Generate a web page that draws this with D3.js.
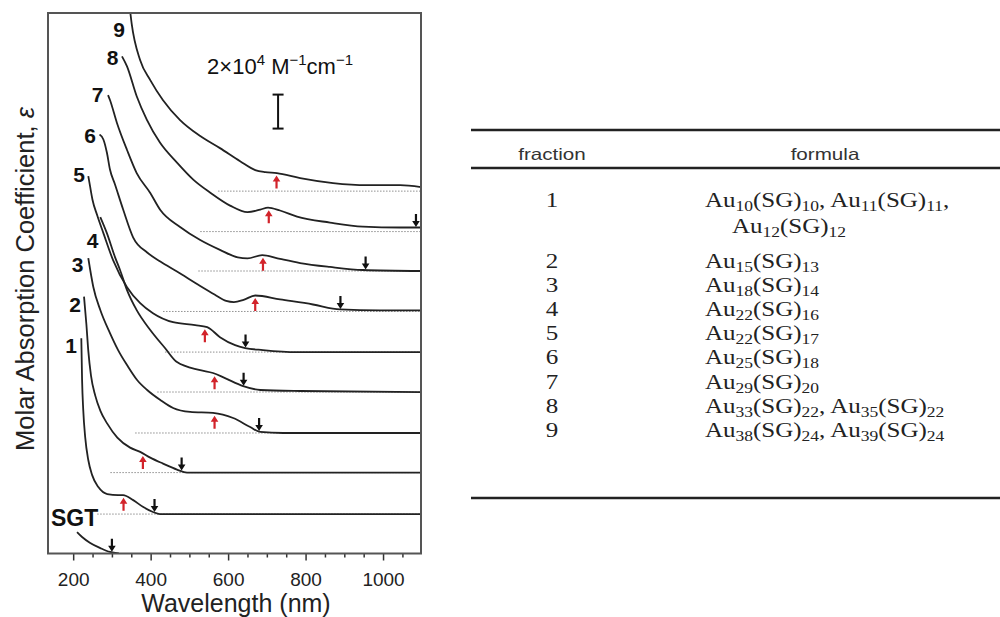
<!DOCTYPE html>
<html><head><meta charset="utf-8">
<script src="https://cdn.jsdelivr.net/npm/d3@7"></script>
<style>body{margin:0;background:#fff}svg{display:block}</style>
</head><body>
<svg id="c" width="1000" height="617"></svg>
<script>
// ---------- DATA ----------
const fractions = ["SGT","1","2","3","4","5","6","7","8","9"];
const offsets   = [0, 2.32, 4.76, 7.09, 9.5, 11.85, 14.24, 16.62, 18.94, 21.32];

const curveSGT = [[210,1.26],[223,0.97],[244,0.62],[270,0.32],[295,0.09],[318,0]];
const curve1 = [[221,10.35],[223,7.88],[226,6.12],[231,4.53],[239,3.18],[249,2.29],[265,1.59],[288,1.18],[316,1.12],[329,1.12],[355,0.82],[381,0.41],[406,0.12],[424,0],[1098,0]];
const curve2 = [[228,10.35],[234,8.76],[239,7.18],[246,5.71],[257,4.53],[270,3.65],[288,2.88],[314,2.06],[347,1.47],[373,1.22],[399,0.88],[432,0.53],[468,0.18],[494,0],[1098,0]];
const curve3 = [[239,10.29],[244,9.59],[252,8.59],[270,7.24],[295,5.88],[316,4.88],[339,4.0],[365,3.12],[391,2.53],[425,1.94],[458,1.47],[502,1.24],[561,1.18],[613,0.88],[657,0.35],[683,0.06],[742,0],[1098,0]];
const curve4 = [[270,10.29],[287,9.35],[308,7.94],[321,7.18],[339,6.0],[364,4.82],[399,3.65],[437,2.59],[468,1.76],[528,1.29],[561,1.12],[592,0.82],[639,0.35],[683,0.12],[786,0.06],[1098,0]];
const curve5 = [[239,10.35],[244,9.7],[250,8.95],[262,8.05],[278,7.0],[303,5.41],[339,3.82],[373,2.88],[406,2.29],[458,1.76],[515,1.59],[546,1.47],[579,0.88],[618,0.41],[644,0.24],[690,0.12],[778,0],[1098,0]];
const curve6 = [[268,10.41],[278,10.12],[287,9.35],[295,8.35],[308,7.47],[329,6.0],[355,4.35],[391,3.47],[425,2.94],[468,2.35],[528,1.5],[565,1.0],[595,0.62],[615,0.55],[640,0.68],[670,0.94],[734,0.71],[819,0.41],[889,0.12],[992,0.06],[1098,0.06]];
const curve7 = [[290,10.35],[295,10.06],[313,8.71],[339,7.12],[364,5.76],[399,4.59],[425,3.59],[476,2.59],[528,1.82],[579,1.24],[625,0.8],[650,0.74],[688,0.94],[734,0.71],[786,0.47],[863,0.24],[948,0.06],[1098,0]];
const curve8 = [[326,10.31],[339,9.72],[364,7.96],[390,6.59],[424,5.24],[468,4.06],[510,3.06],[554,2.29],[605,1.53],[650,1.14],[683,1.29],[703,1.41],[734,1.24],[778,0.88],[863,0.53],[948,0.29],[1044,0.24],[1098,0.24]];
const curve9 = [[345,11.0],[351,9.86],[373,7.7],[399,6.53],[432,5.35],[476,4.18],[528,3.24],[579,2.53],[631,1.76],[670,1.24],[696,1.12],[726,1.06],[786,0.76],[871,0.47],[959,0.35],[1044,0.35],[1098,0.24]];
const curves = [curveSGT, curve1, curve2, curve3, curve4, curve5, curve6, curve7, curve8, curve9];

const redArrowNm   = [null, 330, 380, 565, 565, 540, 670, 690, 705, 725];
const blackArrowNm = [300, 410, 480, 680, 640, 645, 890, 955, 1085, null];
const dottedStartNm = [null, 262, 296, 360, 417, 437, 432, 523, 528, 574];

const labelNm  = [203.9, 194.8, 205.2, 211.6, 250.3, 215.5, 243.9, 263.2, 301.9, 318.7];
const labelVal = [2.06, 12.26, 14.65, 17.0, 18.41, 22.29, 24.59, 27.0, 29.21, 30.82];

const majorTicks = [200, 400, 600, 800, 1000];
const minorTicks = [250, 300, 350, 450, 500, 550, 650, 700, 750, 850, 900, 950, 1050];
const scaleBarNm = 729, scaleBarFrom = 25.0, scaleBarSize = 2;

const tableHeader = ["fraction", "formula"];
const tableFraction = ["1","2","3","4","5","6","7","8","9"];
const tableFormula = [
  ["Au_{10}(SG)_{10}, Au_{11}(SG)_{11},", "Au_{12}(SG)_{12}"],
  ["Au_{15}(SG)_{13}"],
  ["Au_{18}(SG)_{14}"],
  ["Au_{22}(SG)_{16}"],
  ["Au_{22}(SG)_{17}"],
  ["Au_{25}(SG)_{18}"],
  ["Au_{29}(SG)_{20}"],
  ["Au_{33}(SG)_{22}, Au_{35}(SG)_{22}"],
  ["Au_{38}(SG)_{24}, Au_{39}(SG)_{24}"]
];

// ---------- CHART ----------
const svg = d3.select("#c");
const L = 48, R = 421, T = 13, B = 553.5;
const x = d3.scaleLinear().domain([135, 1098]).range([L, R]);
const y = d3.scaleLinear().domain([0, 31.8]).range([B, T]);
const SANS = "'Liberation Sans', Arial, Helvetica, sans-serif";
const SERIF = "'Liberation Serif', 'Times New Roman', serif";

svg.append("defs").append("clipPath").attr("id","pc")
  .append("rect").attr("x",L).attr("y",T).attr("width",R-L).attr("height",B-T);

const plot = svg.append("g").attr("clip-path","url(#pc)");

function valueAt(c, nm){
  for (let i=0;i<c.length-1;i++){
    if (nm>=c[i][0] && nm<=c[i+1][0]){
      const t=(nm-c[i][0])/(c[i+1][0]-c[i][0]);
      return c[i][1]+t*(c[i+1][1]-c[i][1]);
    }
  }
  return c[c.length-1][1];
}

// dotted baselines
fractions.forEach((f,i)=>{
  if (dottedStartNm[i]==null) return;
  plot.append("line")
    .attr("x1",x(dottedStartNm[i])).attr("x2",x(1098))
    .attr("y1",y(offsets[i])).attr("y2",y(offsets[i]))
    .attr("stroke","#8f8f8f").attr("stroke-width",1).attr("stroke-dasharray","1.5,1.5");
});

// curves
fractions.forEach((f,i)=>{
  const line = d3.line().x(d=>x(d[0])).y(d=>y(d[1]+offsets[i])).curve(d3.curveMonotoneX);
  plot.append("path").datum(curves[i]).attr("d",line)
    .attr("fill","none").attr("stroke","#222").attr("stroke-width",1.8);
});

// arrows
function arrowPath(ax, tip, dir){ // dir=-1 points up (tip at top), +1 points down
  const h=6, len=13, hw=3.8, sw=1.1;
  const b = tip - dir*len, hb = tip - dir*h;
  return `M${ax},${tip}L${ax-hw},${hb}L${ax-sw},${hb}L${ax-sw},${b}L${ax+sw},${b}L${ax+sw},${hb}L${ax+hw},${hb}Z`;
}
fractions.forEach((f,i)=>{
  if (redArrowNm[i]!=null){
    const ax = x(redArrowNm[i]);
    const cy = y(valueAt(curves[i], redArrowNm[i]) + offsets[i]);
    svg.append("path").attr("d",arrowPath(ax, cy+2.5, -1)).attr("fill","#d2232a");
  }
  if (blackArrowNm[i]!=null){
    const ax = x(blackArrowNm[i]);
    const cy = y(valueAt(curves[i], blackArrowNm[i]) + offsets[i]);
    svg.append("path").attr("d",arrowPath(ax, cy-0.5, 1)).attr("fill","#111");
  }
});

// labels
fractions.forEach((f,i)=>{
  svg.append("text").attr("x",x(labelNm[i])).attr("y",y(labelVal[i]))
    .attr("text-anchor","middle").attr("dominant-baseline","central")
    .attr("font-family",SANS).attr("font-weight","bold")
    .attr("font-size", f==="SGT"?23:21).attr("fill","#111").text(f);
});

// scale bar
const sbx = x(scaleBarNm);
const sb = svg.append("g").attr("stroke","#111").attr("stroke-width",2);
sb.append("line").attr("x1",sbx).attr("x2",sbx).attr("y1",y(scaleBarFrom)).attr("y2",y(scaleBarFrom+scaleBarSize));
[scaleBarFrom, scaleBarFrom+scaleBarSize].forEach(v=>{
  sb.append("line").attr("x1",sbx-5.5).attr("x2",sbx+5.5).attr("y1",y(v)).attr("y2",y(v));
});
const st = svg.append("text").attr("x",sbx+2).attr("y",74).attr("text-anchor","middle")
  .attr("font-family",SANS).attr("font-size",22).attr("fill","#111");
st.append("tspan").text("2×10");
st.append("tspan").attr("dy",-9).attr("font-size",15).text("4");
st.append("tspan").attr("dy",9).text(" M");
st.append("tspan").attr("dy",-9).attr("font-size",15).text("−1");
st.append("tspan").attr("dy",9).text("cm");
st.append("tspan").attr("dy",-9).attr("font-size",15).text("−1");

// axes
const gMinor = svg.append("g").attr("transform",`translate(0,${B})`)
  .call(d3.axisBottom(x).tickValues(minorTicks).tickSize(4).tickFormat(""));
const gMajor = svg.append("g").attr("transform",`translate(0,${B})`)
  .call(d3.axisBottom(x).tickValues(majorTicks).tickSize(7).tickPadding(12).tickFormat(d3.format("d")));
[gMinor,gMajor].forEach(g=>{
  g.select(".domain").remove();
  g.selectAll(".tick line").attr("stroke","#333").attr("stroke-width",1.5);
  g.selectAll("text").attr("font-family",SANS).attr("font-size",19).attr("fill","#222");
});

// frame
svg.append("rect").attr("x",L).attr("y",T).attr("width",R-L).attr("height",B-T)
  .attr("fill","none").attr("stroke","#555").attr("stroke-width",2);

// axis titles
svg.append("text").attr("x",236).attr("y",612).attr("text-anchor","middle")
  .attr("font-family",SANS).attr("font-size",25).attr("fill","#222").text("Wavelength (nm)");
const yt = svg.append("text").attr("transform","translate(34,279) rotate(-90)").attr("text-anchor","middle")
  .attr("font-family",SANS).attr("font-size",25.5).attr("fill","#222");
yt.append("tspan").text("Molar Absorption Coefficient, ");
yt.append("tspan").attr("font-style","italic").text("ε");

// ---------- TABLE ----------
const SX = 1.25;
const tb = svg.append("g");
const ruleX1 = 471, ruleX2 = 1000;
[[130],[168],[498]].forEach(([ry])=>{
  tb.append("line").attr("x1",ruleX1).attr("x2",ruleX2).attr("y1",ry).attr("y2",ry)
    .attr("stroke","#222").attr("stroke-width",2.4);
});
const colFrac = 552, colForm = 825, formLeft = 705;
tb.append("text").attr("transform",`translate(${colFrac},160) scale(${SX},1)`).attr("text-anchor","middle")
  .attr("font-family",SANS).attr("font-size",16.5).attr("fill","#333").text(tableHeader[0]);
tb.append("text").attr("transform",`translate(${colForm},160) scale(${SX},1)`).attr("text-anchor","middle")
  .attr("font-family",SANS).attr("font-size",16.5).attr("fill","#333").text(tableHeader[1]);

function formulaText(g, str, tx, ty){
  const t = g.append("text").attr("transform",`translate(${tx},${ty}) scale(${SX},1)`)
    .attr("font-family",SERIF).attr("font-size",20).attr("fill","#222");
  const parts = str.split(/_\{(\d+)\}/);
  let shifted=false;
  parts.forEach((p,k)=>{
    if (p==="") { return; }
    const isSub = k%2===1;
    const ts = t.append("tspan").text(p);
    if (isSub){ ts.attr("font-size",14).attr("dy", shifted?0:4); shifted=true; }
    else { if (shifted){ ts.attr("dy",-4); shifted=false; } }
  });
}
const rowBase = [207, 268, 292.1, 316.2, 340.3, 364.4, 388.5, 412.6, 436.7];
tableFraction.forEach((f,i)=>{
  tb.append("text").attr("transform",`translate(${colFrac},${rowBase[i]}) scale(${SX},1)`)
    .attr("text-anchor","middle").attr("font-family",SERIF).attr("font-size",20).attr("fill","#222").text(f);
  tableFormula[i].forEach((ln,j)=>{
    formulaText(tb, ln, j===0?formLeft:732, rowBase[i] + j*26);
  });
});
</script>
</body></html>
